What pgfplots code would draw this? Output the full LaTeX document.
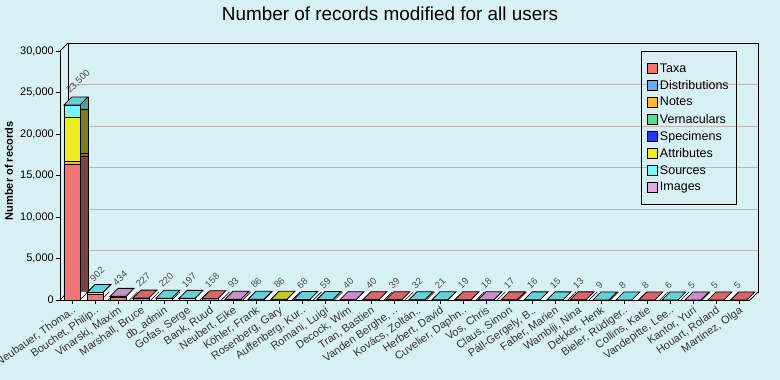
\documentclass[border=0pt]{standalone}
\usepackage{fontspec}
\setmainfont{Liberation Sans}
\usepackage{pgfplots}
\pgfplotsset{compat=1.18}
\usepackage{pgfplotstable}
\usetikzlibrary{patterns.meta}

\definecolor{bg}{HTML}{D8F0F4}
\definecolor{gridc}{HTML}{B8B8B8}
\definecolor{taxa}{HTML}{F07474}
\definecolor{distr}{HTML}{6EA8F0}
\definecolor{notes}{HTML}{FFB830}
\definecolor{vern}{HTML}{58E090}
\definecolor{spec}{HTML}{2838F0}
\definecolor{attr}{HTML}{ECEC22}
\definecolor{src}{HTML}{78F6FA}
\definecolor{imgc}{HTML}{E8A8E0}
\definecolor{taxaT}{HTML}{D46868}
\definecolor{srcT}{HTML}{66D0D6}
\definecolor{imgT}{HTML}{C890C8}
\definecolor{attrT}{HTML}{C8C822}
\definecolor{taxaS}{HTML}{7A4444}
\definecolor{notesS}{HTML}{8A6818}
\definecolor{attrS}{HTML}{7C7C1C}
\definecolor{srcS}{HTML}{4E9EA2}
\definecolor{lbl}{HTML}{333333}

\pgfdeclareplotmark{topface}{%
 \pgfpathmoveto{\pgfqpoint{-8pt}{0pt}}%
 \pgfpathlineto{\pgfqpoint{8pt}{0pt}}%
 \pgfpathlineto{\pgfqpoint{16pt}{8pt}}%
 \pgfpathlineto{\pgfqpoint{0pt}{8pt}}%
 \pgfpathclose
 \pgfusepathqfillstroke}

\pgfplotstableread{
x taxa notes attr src imgs total
0 16300 400 5300 1500 0 23500
1 700 0 0 202 0 902
2 330 0 0 0 104 434
3 227 0 0 0 0 227
4 0 0 0 220 0 220
5 0 0 0 197 0 197
6 158 0 0 0 0 158
7 0 0 0 0 93 93
8 0 0 0 86 0 86
9 0 0 86 0 0 86
10 0 0 0 68 0 68
11 0 0 0 59 0 59
12 0 0 0 0 40 40
13 40 0 0 0 0 40
14 39 0 0 0 0 39
15 0 0 0 32 0 32
16 0 0 0 21 0 21
17 19 0 0 0 0 19
18 0 0 0 0 18 18
19 17 0 0 0 0 17
20 0 0 0 16 0 16
21 0 0 0 15 0 15
22 13 0 0 0 0 13
23 0 0 0 9 0 9
24 0 0 0 8 0 8
25 8 0 0 0 0 8
26 0 0 0 6 0 6
27 0 0 0 0 5 5
28 5 0 0 0 0 5
29 5 0 0 0 0 5
}\data

\pgfplotstableread{
x t
3 227
6 158
13 40
14 39
17 19
19 17
22 13
25 8
28 5
29 5
}\topred
\pgfplotstableread{
x t
0 23500
1 902
4 220
5 197
8 86
10 68
11 59
15 32
16 21
20 16
21 15
23 9
24 8
26 6
}\topcyan
\pgfplotstableread{
x t
2 434
7 93
12 40
18 18
27 5
}\toppink
\pgfplotstableread{
x t
9 86
}\topyellow

\begin{document}
\begin{tikzpicture}
\fill[bg] (0pt,0pt) rectangle (780pt,380pt);
\useasboundingbox (0pt,0pt) rectangle (780pt,380pt);

% back wall
\begin{axis}[at={(68pt,88pt)}, anchor=south west, width=690pt, height=249pt,
  scale only axis, xmin=-0.52, xmax=29.48, ymin=0, ymax=30000,
  xtick=\empty, ytick={5000,10000,15000,20000,25000}, yticklabels={},
  scaled y ticks=false,
  major tick length=0pt, ymajorgrids, grid style={draw=gridc, line width=0.8pt},
  axis line style={black, line width=0.8pt},
  ybar stacked, bar width=16pt,
  every axis plot/.append style={draw=black, line width=0.8pt}]
\addplot[fill=taxaS] coordinates {(0,16300)};
\addplot[fill=notesS] coordinates {(0,400)};
\addplot[fill=attrS] coordinates {(0,5300)};
\addplot[fill=srcS] coordinates {(0,1500)};
\end{axis}

% floor
\fill[white] (60pt,80pt) -- (750pt,80pt) -- (758pt,88pt) -- (68pt,88pt) -- cycle;
\fill[pattern={Lines[angle=45,distance=5pt,line width=0.6pt]}, pattern color=black]
  (60pt,80pt) -- (750pt,80pt) -- (758pt,88pt) -- (68pt,88pt) -- cycle;
\draw[black, line width=0.8pt] (750pt,80pt) -- (758pt,88pt);
\draw[black, line width=0.8pt] (60pt,329pt) -- (68pt,337pt);
\draw[black, line width=0.8pt] (60pt,80pt) -- (68pt,88pt);

% front
\begin{axis}[at={(60pt,80pt)}, anchor=south west, width=690pt, height=249pt,
  scale only axis, xmin=-0.52, xmax=29.48, ymin=0, ymax=30000,
  axis x line*=bottom, axis y line*=left,
  axis line style={black, line width=0.8pt},
  ybar stacked, bar width=16pt,
  xtick={0,...,29},
  xticklabels={{Neubauer, Thoma..},{Bouchet, Philip..},{Vinarski, Maxim},{Marshall, Bruce},{db\_admin},{Gofas, Serge},{Bank, Ruud},{Neubert, Eike},{Köhler, Frank},{Rosenberg, Gary},{Auffenberg, Kur..},{Romani, Luigi},{Decock, Wim},{Tran, Bastien},{Vanden Berghe, ..},{Kovács, Zoltán..},{Herbert, David},{Cuvelier, Daphn..},{Vos, Chris},{Claus, Simon},{Páll-Gergely, B..},{Faber, Marien},{Wambiji, Nina},{Dekker, Henk},{Bieler, Rüdiger..},{Collins, Katie},{Vandepitte, Lee..},{Kantor, Yuri},{Houart, Roland},{Martinez, Olga}},
  ytick={0,5000,10000,15000,20000,25000,30000},
  scaled y ticks=false,
  /pgf/number format/assume math mode=true,
  /pgf/number format/1000 sep={,},
  tick align=outside, major tick length=4pt,
  tick style={black, line width=0.8pt},
  yticklabel style={font=\fontsize{11}{13}\selectfont, text=black, inner sep=2pt},
  xticklabel style={rotate=35, anchor=north east, font=\fontsize{11}{13}\selectfont, text=lbl, inner sep=1pt},
  legend image code/.code={\draw[#1,draw=black,line width=0.6pt] (0pt,-5pt) rectangle (10pt,5pt);},
  legend style={at={(0.842,1)}, anchor=north west, draw=black, line width=0.8pt, fill=none,
    font=\fontsize{12.5}{14}\selectfont, cells={anchor=west}, row sep=2.6pt,
    inner xsep=6pt, inner ysep=10pt},
  legend cell align=left,
  every axis plot/.append style={draw=black, line width=0.8pt}]
\addplot[fill=taxa] table[x=x,y=taxa]{\data}; \addlegendentry{Taxa}
\addlegendimage{fill=distr} \addlegendentry{Distributions}
\addplot[fill=notes] table[x=x,y=notes]{\data}; \addlegendentry{Notes}
\addlegendimage{fill=vern} \addlegendentry{Vernaculars}
\addlegendimage{fill=spec} \addlegendentry{Specimens}
\addplot[fill=attr] table[x=x,y=attr]{\data}; \addlegendentry{Attributes}
\addplot[fill=src] table[x=x,y=src]{\data}; \addlegendentry{Sources}
\addplot[fill=imgc] table[x=x,y=imgs]{\data}; \addlegendentry{Images}
\end{axis}

% top faces and value labels
\begin{axis}[at={(60pt,80pt)}, anchor=south west, width=690pt, height=249pt,
  scale only axis, xmin=-0.52, xmax=29.48, ymin=0, ymax=30000,
  hide axis, clip=false,
  /pgf/number format/assume math mode=true,
  /pgf/number format/1000 sep={,}]
\addplot[only marks, mark=topface, mark options={fill=taxaT, draw=black, line width=0.8pt}] table[x=x,y=t]{\topred};
\addplot[only marks, mark=topface, mark options={fill=srcT, draw=black, line width=0.8pt}] table[x=x,y=t]{\topcyan};
\addplot[only marks, mark=topface, mark options={fill=imgT, draw=black, line width=0.8pt}] table[x=x,y=t]{\toppink};
\addplot[only marks, mark=topface, mark options={fill=attrT, draw=black, line width=0.8pt}] table[x=x,y=t]{\topyellow};
\addplot[draw=none, mark=none, nodes near coords, point meta=explicit,
  every node near coord/.append style={xshift=-1pt, yshift=10pt, rotate=45, anchor=south west,
    font=\fontsize{9.5}{11}\selectfont, text=black!70, inner sep=0pt}]
  table[x=x,y=total,meta=total]{\data};
\end{axis}

\node[font=\fontsize{18.9}{22}\selectfont] at (390pt,366pt) {Number of records modified for all users};
\node[font=\bfseries\fontsize{11}{13}\selectfont, rotate=90] at (9pt,209pt) {Number of records};
\end{tikzpicture}
\end{document}
